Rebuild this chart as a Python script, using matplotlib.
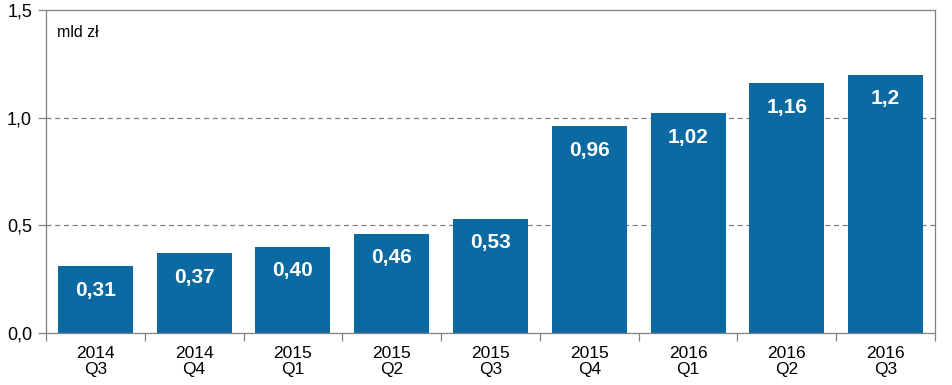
import numpy as np
import matplotlib.pyplot as plt

# --------------------- Data ------------------------
years = ["2014", "2014", "2015", "2015", "2015", "2015", "2016", "2016", "2016"]
quarters = ["Q3", "Q4", "Q1", "Q2", "Q3", "Q4", "Q1", "Q2", "Q3"]
values = [0.31, 0.37, 0.40, 0.46, 0.53, 0.96, 1.02, 1.16, 1.20]
value_labels = ["0,31", "0,37", "0,40", "0,46", "0,53", "0,96", "1,02", "1,16", "1,2"]
y_ticks = [0.0, 0.5, 1.0, 1.5]
y_tick_labels = ["0,0", "0,5", "1,0", "1,5"]

bar_color = "#0a6aa1"
edge = "#808080"

plt.rcParams['font.family'] = ['Liberation Sans', 'DejaVu Sans']

# --------------------- Plot ------------------------
fig = plt.figure(figsize=(9.53, 3.85), dpi=100)
ax = fig.add_axes([46/953, 52/385, (935-46)/953, (333-10)/385])

x = np.arange(len(values))
bars = ax.bar(x, values, width=0.76, color=bar_color, zorder=2)

for xi, v, lab in zip(x, values, value_labels):
    ax.annotate(lab, (xi, v), xytext=(0, -24), textcoords="offset pixels",
                ha="center", va="center", color="white", fontsize=15,
                fontweight="bold", zorder=3)

ax.set_xlim(-0.5, len(values) - 0.5)
ax.set_ylim(0, 1.5)
ax.set_yticks(y_ticks)
ax.set_yticklabels(y_tick_labels, fontsize=13)
for yv in [0.5, 1.0]:
    ax.axhline(yv, color=edge, lw=0.9, ls=(0, (4, 3)), zorder=1)

# category labels, ticks between categories
ax.set_xticks(x)
ax.set_xticklabels([f"{y}\n{q}" for y, q in zip(years, quarters)], fontsize=12.5,
                   linespacing=1.15)
ax.tick_params(axis="x", length=0, pad=9)
ax.set_xticks(np.arange(len(values) + 1) - 0.5, minor=True)
ax.tick_params(axis="x", which="minor", length=6, color=edge, width=0.9)
ax.tick_params(axis="y", length=6, color=edge, width=0.9, pad=4)

for s in ax.spines.values():
    s.set_color(edge)
    s.set_linewidth(0.9)

ax.text(0.012, 0.93, "mld zł", transform=ax.transAxes, fontsize=11.5,
        ha="left", va="center")

fig.savefig("out.png", dpi=100)
